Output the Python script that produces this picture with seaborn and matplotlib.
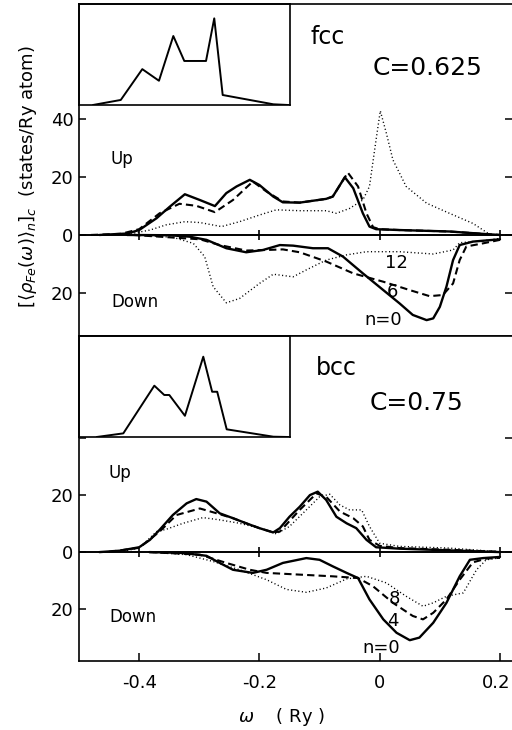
import numpy as np
import pandas as pd
import matplotlib
matplotlib.use("Agg")
import matplotlib.pyplot as plt
import matplotlib.transforms as mtransforms
import seaborn as sns

# ---------------- data ----------------
# fcc, C=0.625
fcc_up0_w = [-0.466, -0.42, -0.40, -0.371, -0.349, -0.324, -0.299, -0.274, -0.255, -0.238, -0.216, -0.20, -0.177, -0.161, -0.133, -0.089, -0.078, -0.058, -0.044, -0.028, -0.017, -0.006, 0.033, 0.116, 0.177, 0.20]
fcc_up0_v = [0.0, 0.5, 1.7, 5.8, 9.8, 14.1, 12.1, 10.0, 14.5, 16.8, 19.1, 17.3, 13.3, 11.3, 11.2, 12.5, 13.3, 20.0, 16.2, 7.5, 2.9, 2.0, 1.7, 1.2, 0.3, 0.0]
fcc_up6_w = [-0.48, -0.43, -0.40, -0.366, -0.333, -0.305, -0.274, -0.244, -0.211, -0.188, -0.161, -0.133, -0.089, -0.078, -0.053, -0.036, -0.022, -0.011, 0.0, 0.033, 0.116, 0.177, 0.20]
fcc_up6_v = [0.0, 0.4, 2.0, 7.5, 10.8, 10.1, 7.9, 12.1, 18.5, 15.0, 11.6, 11.2, 12.5, 13.3, 21.6, 16.8, 7.5, 2.7, 2.0, 1.7, 1.2, 0.3, 0.0]
fcc_up12_w = [-0.42, -0.382, -0.355, -0.324, -0.299, -0.263, -0.233, -0.20, -0.172, -0.133, -0.089, -0.072, -0.05, -0.028, -0.017, -0.006, 0.001, 0.011, 0.022, 0.044, 0.078, 0.116, 0.155, 0.18]
fcc_up12_v = [0.2, 1.7, 3.5, 4.6, 4.3, 2.9, 4.6, 6.9, 8.7, 8.4, 8.4, 7.5, 9.2, 12.1, 16.8, 33.0, 43.0, 35.3, 26.0, 16.8, 11.0, 7.5, 4.0, 0.6]
fcc_dn0_w = [-0.42, -0.35, -0.316, -0.288, -0.255, -0.222, -0.194, -0.166, -0.144, -0.111, -0.086, -0.061, -0.028, 0.006, 0.033, 0.055, 0.078, 0.089, 0.10, 0.111, 0.122, 0.133, 0.155, 0.20]
fcc_dn0_v = [0.0, 0.1, 0.6, 1.7, 4.6, 6.0, 5.2, 3.5, 3.7, 4.6, 4.6, 7.5, 13.3, 19.1, 23.7, 27.7, 29.5, 28.9, 24.9, 17.9, 8.7, 3.5, 2.3, 1.5]
fcc_dn6_w = [-0.41, -0.299, -0.266, -0.222, -0.188, -0.161, -0.133, -0.089, -0.044, 0.006, 0.05, 0.083, 0.105, 0.122, 0.133, 0.144, 0.172, 0.20]
fcc_dn6_v = [0.0, 1.5, 3.5, 5.4, 5.2, 5.0, 6.0, 9.2, 13.3, 16.2, 19.1, 21.2, 20.8, 16.8, 8.7, 4.0, 2.9, 1.7]
fcc_dn12_w = [-0.41, -0.344, -0.31, -0.291, -0.277, -0.255, -0.233, -0.20, -0.177, -0.144, -0.122, -0.089, -0.055, -0.022, 0.033, 0.089, 0.122, 0.133, 0.172, 0.20]
fcc_dn12_v = [0.0, 0.8, 2.9, 7.5, 17.9, 23.5, 22.0, 16.8, 13.6, 14.5, 12.1, 8.7, 6.9, 5.8, 5.8, 6.6, 5.2, 2.7, 2.0, 1.2]

# bcc, C=0.75
bcc_up0_w = [-0.466, -0.432, -0.40, -0.382, -0.366, -0.344, -0.321, -0.305, -0.288, -0.266, -0.244, -0.222, -0.20, -0.177, -0.166, -0.15, -0.133, -0.116, -0.103, -0.089, -0.072, -0.055, -0.039, -0.022, -0.006, 0.033, 0.116, 0.20]
bcc_up0_v = [0.0, 0.5, 1.7, 4.3, 7.8, 13.0, 17.1, 18.6, 17.7, 13.6, 11.9, 10.1, 8.4, 6.9, 8.4, 12.4, 15.9, 20.0, 21.2, 18.3, 12.4, 10.1, 8.4, 4.3, 1.7, 1.2, 0.6, 0.0]
bcc_up4_w = [-0.45, -0.40, -0.366, -0.338, -0.299, -0.271, -0.244, -0.222, -0.20, -0.177, -0.166, -0.133, -0.105, -0.089, -0.066, -0.044, -0.028, -0.017, 0.0, 0.033, 0.116, 0.20]
bcc_up4_v = [0.1, 1.5, 7.2, 13.0, 15.3, 13.6, 11.9, 10.1, 8.4, 6.9, 7.2, 14.8, 20.6, 19.4, 14.2, 11.9, 9.0, 4.3, 2.2, 1.4, 0.8, 0.1]
bcc_up8_w = [-0.432, -0.40, -0.371, -0.355, -0.327, -0.294, -0.266, -0.233, -0.20, -0.172, -0.15, -0.122, -0.10, -0.083, -0.066, -0.05, -0.03, -0.017, 0.0, 0.033, 0.116, 0.20]
bcc_up8_v = [0.1, 1.4, 7.2, 8.0, 10.1, 12.1, 11.3, 10.1, 8.4, 6.4, 9.0, 14.8, 19.4, 20.3, 16.5, 14.8, 14.8, 9.0, 3.1, 2.0, 1.4, 0.1]
bcc_dn0_w = [-0.383, -0.327, -0.288, -0.266, -0.244, -0.211, -0.188, -0.161, -0.122, -0.10, -0.078, -0.055, -0.036, -0.017, 0.006, 0.028, 0.05, 0.066, 0.089, 0.111, 0.133, 0.15, 0.172, 0.20]
bcc_dn0_v = [0.0, 0.3, 1.3, 3.8, 6.2, 7.3, 6.2, 3.8, 2.1, 2.7, 5.0, 7.3, 9.1, 16.6, 23.6, 28.3, 30.9, 30.0, 24.8, 17.8, 8.5, 2.7, 2.1, 1.7]
bcc_dn4_w = [-0.383, -0.299, -0.255, -0.216, -0.188, -0.133, -0.078, -0.036, -0.011, 0.022, 0.055, 0.072, 0.089, 0.111, 0.133, 0.155, 0.177, 0.20]
bcc_dn4_v = [0.0, 0.9, 3.8, 6.2, 7.3, 7.9, 8.5, 9.1, 12.0, 17.8, 22.4, 23.6, 21.3, 16.6, 9.7, 3.6, 2.3, 2.0]
bcc_dn8_w = [-0.383, -0.321, -0.277, -0.233, -0.188, -0.155, -0.122, -0.089, -0.055, -0.022, 0.011, 0.044, 0.072, 0.089, 0.111, 0.139, 0.161, 0.177, 0.20]
bcc_dn8_v = [0.0, 0.9, 3.3, 6.2, 9.7, 13.1, 14.1, 12.6, 9.4, 8.5, 10.8, 15.5, 19.0, 17.8, 15.5, 14.3, 6.2, 2.7, 2.0]

# insets (arbitrary units)
fcc_ins_x = [0.066, 0.198, 0.300, 0.379, 0.447, 0.499, 0.602, 0.641, 0.681, 0.921, 0.992]
fcc_ins_y = [0.0, 0.05, 0.355, 0.24, 0.683, 0.436, 0.436, 0.858, 0.099, 0.007, 0.0]
bcc_ins_x = [0.084, 0.210, 0.357, 0.404, 0.428, 0.502, 0.589, 0.631, 0.655, 0.700, 0.921, 0.992]
bcc_ins_y = [0.0, 0.036, 0.508, 0.416, 0.416, 0.210, 0.795, 0.448, 0.448, 0.076, 0.003, 0.0]

x_ticks = [-0.4, -0.2, 0.0, 0.2]
x_ticklabels = ["-0.4", "-0.2", "0", "0.2"]
fcc_yticks = [-20, 0, 20, 40]
fcc_yticklabels = ["20", "0", "20", "40"]
bcc_yticks = [-20, 0, 20, 40]
bcc_yticklabels = ["20", "0", "20", ""]

# ---------------- plotting ----------------
sns.set_style("white")
plt.rcParams['font.family'] = ['DejaVu Sans']
plt.rcParams['text.color'] = 'black'
plt.rcParams['axes.labelcolor'] = 'black'
plt.rcParams['xtick.color'] = 'black'
plt.rcParams['ytick.color'] = 'black'

fig = plt.figure(figsize=(5.12, 7.30), dpi=100)
W, H = 512.0, 730.0

def ax_rect(x0, y0, x1, y1):
    return [x0 / W, 1 - y1 / H, (x1 - x0) / W, (y1 - y0) / H]

ax1 = fig.add_axes(ax_rect(79, 4, 512, 336))
ax2 = fig.add_axes(ax_rect(79, 336, 512, 661))

def draw(ax, w, v, style, sign=1.0):
    d = pd.DataFrame({"w": w, "v": np.asarray(v) * sign})
    if style == "solid":
        sns.lineplot(data=d, x="w", y="v", ax=ax, color="black", lw=1.7, sort=False, estimator=None)
    elif style == "dashed":
        sns.lineplot(data=d, x="w", y="v", ax=ax, color="black", lw=1.5, sort=False, estimator=None,
                     dashes=False, linestyle=(0, (3.5, 2)))
    else:
        sns.lineplot(data=d, x="w", y="v", ax=ax, color="black", lw=1.0, sort=False, estimator=None,
                     linestyle=(0, (0.8, 1.8)))

for ax, curves, ylim, yt, ytl in [
    (ax1, [(fcc_up0_w, fcc_up0_v, "solid", 1), (fcc_up6_w, fcc_up6_v, "dashed", 1), (fcc_up12_w, fcc_up12_v, "dotted", 1),
           (fcc_dn0_w, fcc_dn0_v, "solid", -1), (fcc_dn6_w, fcc_dn6_v, "dashed", -1), (fcc_dn12_w, fcc_dn12_v, "dotted", -1)],
     (-35, 80), fcc_yticks, fcc_yticklabels),
    (ax2, [(bcc_up0_w, bcc_up0_v, "solid", 1), (bcc_up4_w, bcc_up4_v, "dashed", 1), (bcc_up8_w, bcc_up8_v, "dotted", 1),
           (bcc_dn0_w, bcc_dn0_v, "solid", -1), (bcc_dn4_w, bcc_dn4_v, "dashed", -1), (bcc_dn8_w, bcc_dn8_v, "dotted", -1)],
     (-38.2, 75.8), bcc_yticks, bcc_yticklabels),
]:
    for w, v, st, s in curves:
        draw(ax, w, v, st, s)
    ax.set_xlim(-0.5, 0.22)
    ax.set_ylim(*ylim)
    ax.axhline(0, color="black", lw=1.4)
    ax.plot(x_ticks, [0] * len(x_ticks), ls="none", marker="|", ms=7, mew=1.2, color="black")
    ax.set_yticks(yt)
    ax.set_yticklabels(ytl, fontsize=13, color="black")
    ax.tick_params(axis="y", direction="in", length=5, width=1.1, left=True, right=True, pad=4)
    ax.set_xlabel("")
    ax.set_ylabel("")
    for sp in ax.spines.values():
        sp.set_color("black")
        sp.set_linewidth(1.2)
    ax.spines["right"].set_visible(False)

ax1.set_xticks([])
ax2.set_xticks(x_ticks)
ax2.set_xticklabels(x_ticklabels, fontsize=13, color="black")
ax2.tick_params(axis="x", direction="in", length=6, width=1.1, bottom=True, pad=9)
# nudge the last x tick label left so it stays inside the figure
last = ax2.get_xticklabels()[-1]
last.set_transform(last.get_transform() + mtransforms.ScaledTranslation(-4 / 100, 0, fig.dpi_scale_trans))

# texts
ax1.text(-0.429, 26.3, "Up", fontsize=12, ha="center", va="center")
ax1.text(-0.407, -23.2, "Down", fontsize=12, ha="center", va="center")
ax1.text(-0.086, 68.6, "fcc", fontsize=17, ha="center", va="center")
ax1.text(0.08, 57.9, "C=0.625", fontsize=18, ha="center", va="center")
ax1.text(0.028, -9.8, "12", fontsize=13, ha="center", va="center")
ax1.text(0.022, -19.6, "6", fontsize=13, ha="center", va="center")
ax1.text(0.006, -29.5, "n=0", fontsize=13, ha="center", va="center")

ax2.text(-0.432, 27.6, "Up", fontsize=12, ha="center", va="center")
ax2.text(-0.41, -22.8, "Down", fontsize=12, ha="center", va="center")
ax2.text(-0.072, 64.7, "bcc", fontsize=17, ha="center", va="center")
ax2.text(0.061, 52.4, "C=0.75", fontsize=18, ha="center", va="center")
ax2.text(0.025, -16.6, "8", fontsize=13, ha="center", va="center")
ax2.text(0.022, -24.2, "4", fontsize=13, ha="center", va="center")
ax2.text(0.003, -33.5, "n=0", fontsize=13, ha="center", va="center")

# insets
for rect, ix, iy in [(ax_rect(79, 4, 290, 105), fcc_ins_x, fcc_ins_y),
                     (ax_rect(79, 336, 290, 437), bcc_ins_x, bcc_ins_y)]:
    ia = fig.add_axes(rect)
    sns.lineplot(x=ix, y=iy, ax=ia, color="black", lw=1.4, sort=False, estimator=None)
    ia.set_xlim(0, 1)
    ia.set_ylim(0, 1)
    ia.set_xticks([])
    ia.set_yticks([])
    ia.patch.set_alpha(0)
    for sp in ia.spines.values():
        sp.set_color("black")
        sp.set_linewidth(1.2)

fig.text(28 / W, 1 - 177 / H, r"$[\langle\rho_{Fe}(\omega)\rangle_n]_c$  (states/Ry atom)",
         rotation=90, ha="center", va="center", fontsize=13)
fig.text(282 / W, 1 - 717 / H, r"$\omega$    ( Ry )", ha="center", va="center", fontsize=13)

fig.savefig("out.png", dpi=100)
